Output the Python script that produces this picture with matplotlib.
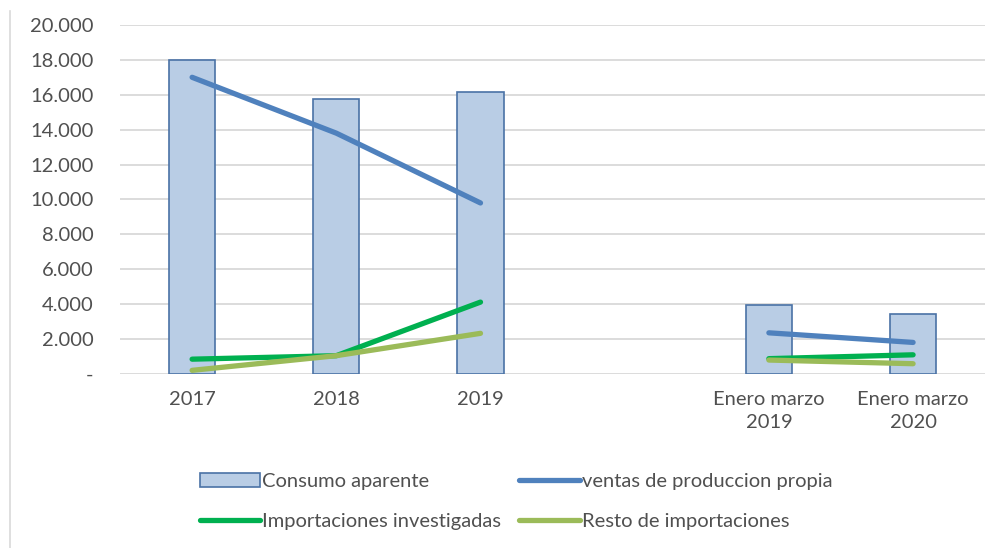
import matplotlib.pyplot as plt
import matplotlib.lines as mlines
import numpy as np

categories = ["2017", "2018", "2019", "", "Enero marzo\n2019", "Enero marzo\n2020"]
consumo_aparente = [18000, 15750, 16150, np.nan, 3930, 3450]
ventas_produccion = [17000, 13800, 9800, np.nan, 2360, 1810]
import_investigadas = [850, 1050, 4120, np.nan, 880, 1100]
resto_import = [210, 1050, 2330, np.nan, 800, 590]
yticks = [0, 2000, 4000, 6000, 8000, 10000, 12000, 14000, 16000, 18000, 20000]

plt.rcParams['font.family'] = ['Lato', 'DejaVu Sans']

fig = plt.figure(figsize=(10.06, 5.48), dpi=100)
ax = fig.add_axes([0.1193, 0.3175, 0.86, 0.637])

x = np.arange(len(categories))
bars = ax.bar(x, consumo_aparente, width=0.32, color="#b9cde5", edgecolor="#4a72a6",
              linewidth=1.2, label="Consumo aparente", zorder=2)
l1, = ax.plot(x, ventas_produccion, color="#4f81bd", lw=3.8, solid_capstyle="round",
              label="ventas de produccion propia", zorder=3)
l2, = ax.plot(x, import_investigadas, color="#00b050", lw=3.8, solid_capstyle="round",
              label="Importaciones investigadas", zorder=3)
l3, = ax.plot(x, resto_import, color="#9bbb59", lw=3.8, solid_capstyle="round",
              label="Resto de importaciones", zorder=3)

ax.set_xlim(-0.5, len(categories) - 0.5)
ax.set_ylim(0, 20000)
ax.set_yticks(yticks)
ax.set_yticklabels(["-"] + [f"{v:,}".replace(",", ".") for v in yticks[1:]])
ax.set_xticks(x)
ax.set_xticklabels(categories, linespacing=1.45)
ax.yaxis.grid(True, color="#d9d9d9", lw=1.3, zorder=0)
ax.set_axisbelow(True)
for s in ax.spines.values():
    s.set_visible(False)
ax.tick_params(axis="both", length=0, labelsize=14.5, colors="#505050")
ax.tick_params(axis="y", pad=19)
ax.tick_params(axis="x", pad=12)

# left border of chart frame
fig.add_artist(mlines.Line2D([0.01, 0.01], [0.0, 0.98], color="#d9d9d9", lw=1.2))

# column-wise fill: col1 = bar, import; col2 = ventas, resto
fig.legend([bars, l2, l1, l3],
           [bars.get_label(), l2.get_label(), l1.get_label(), l3.get_label()],
           loc="center", bbox_to_anchor=(0.513, 0.085), ncol=2, frameon=False,
           fontsize=14.5, handlelength=3.0, handletextpad=0.1, columnspacing=0.9,
           labelspacing=1.1, labelcolor="#505050")

fig.savefig("out.png", dpi=100)
